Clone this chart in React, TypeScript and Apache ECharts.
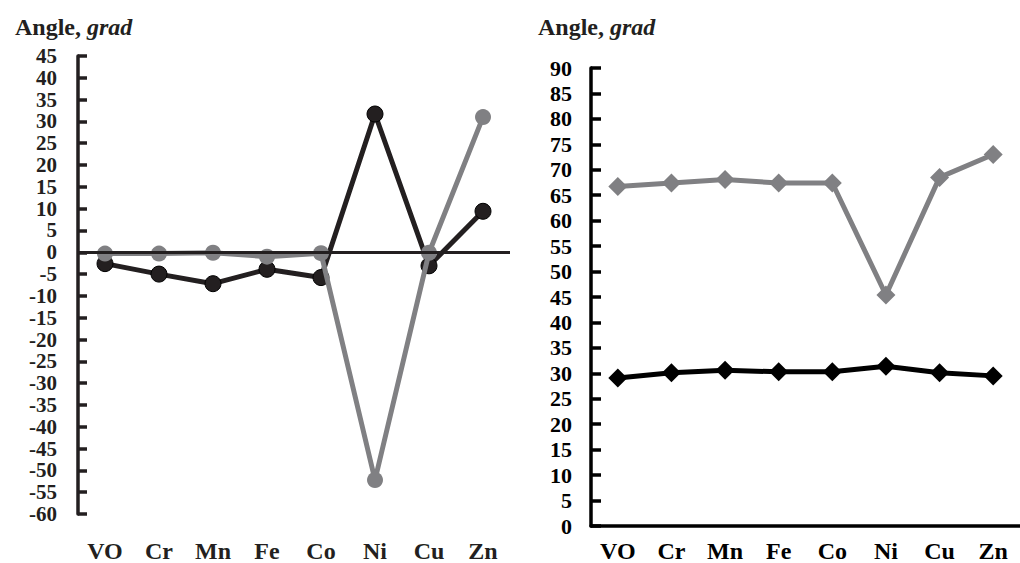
import React, { useEffect, useRef } from "react";
import * as echarts from "echarts";

const categories = ["VO", "Cr", "Mn", "Fe", "Co", "Ni", "Cu", "Zn"];
const leftBlack = [-2.6, -5, -7.2, -3.9, -5.8, 31.7, -3.1, 9.4];
const leftGray = [-0.3, -0.3, -0.1, -1, -0.2, -52.2, -0.1, 31];
const rightGray = [66.7, 67.4, 68.1, 67.4, 67.4, 45.4, 68.5, 73];
const rightBlack = [29.1, 30.1, 30.6, 30.3, 30.3, 31.4, 30.1, 29.5];
const leftTicks = { min: -60, max: 45, interval: 5 };
const rightTicks = { min: 0, max: 90, interval: 5 };

const FONT = '"Liberation Serif", "Times New Roman", serif';
const DARK = "#231f20";
const GRAY = "#808083";

export default function App() {
  const ref = useRef<HTMLDivElement>(null);
  useEffect(() => {
    if (!ref.current) return;
    const chart = echarts.init(ref.current, undefined, { renderer: "svg" });
    const rich = {
      b: { fontFamily: FONT, fontWeight: "bold", fontSize: 24, color: DARK },
      i: { fontFamily: FONT, fontWeight: "bold", fontStyle: "italic", fontSize: 24, color: DARK },
    };
    const yLabel = {
      fontFamily: FONT,
      fontWeight: "bold",
      fontSize: 21,
      color: "#000",
      showMinLabel: true,
      showMaxLabel: true,
      hideOverlap: false,
    };
    const xLabel = { fontFamily: FONT, fontWeight: "bold", fontSize: 24, color: "#000" };
    chart.setOption({
      animation: false,
      backgroundColor: "#fff",
      title: [
        { text: "{b|Angle, }{i|grad}", left: 10, top: 10, textStyle: { rich } },
        { text: "{b|Angle, }{i|grad}", left: 533, top: 10, textStyle: { rich } },
      ],
      grid: [
        { left: 78, top: 56, width: 432, height: 460 },
        { left: 591, top: 68, width: 440, height: 460 },
      ],
      xAxis: [
        {
          gridIndex: 0,
          type: "category",
          data: categories,
          axisLine: { show: false },
          axisTick: { show: false },
          axisLabel: { ...xLabel, color: DARK, interval: 0, margin: 25 },
        },
        {
          gridIndex: 1,
          type: "category",
          data: categories,
          axisLine: { show: true, onZero: false, lineStyle: { color: "#000", width: 3.5 } },
          axisTick: { show: false },
          axisLabel: { ...xLabel, interval: 0, margin: 13 },
        },
      ],
      yAxis: [
        {
          gridIndex: 0,
          type: "value",
          ...leftTicks,
          axisLine: { show: true, lineStyle: { color: DARK, width: 3.5 } },
          axisTick: { show: true, inside: true, length: 9, lineStyle: { color: DARK, width: 3.5 } },
          splitLine: { show: false },
          axisLabel: { ...yLabel, color: DARK, margin: 21 },
        },
        {
          gridIndex: 1,
          type: "value",
          ...rightTicks,
          axisLine: { show: true, lineStyle: { color: "#000", width: 3.5 } },
          axisTick: { show: true, inside: true, length: 10, lineStyle: { color: "#000", width: 3.5 } },
          splitLine: { show: false },
          axisLabel: { ...yLabel, fontSize: 22, margin: 19 },
        },
      ],
      series: [
        {
          type: "line",
          xAxisIndex: 0,
          yAxisIndex: 0,
          data: leftBlack,
          symbol: "circle",
          symbolSize: 16,
          lineStyle: { color: DARK, width: 5 },
          itemStyle: { color: DARK, borderColor: "#000", borderWidth: 1 },
          markLine: {
            silent: true,
            symbol: ["none", "none"],
            label: { show: false },
            lineStyle: { color: DARK, width: 3, type: "solid" },
            data: [{ yAxis: 0 }],
          },
          z: 2,
        },
        {
          type: "line",
          xAxisIndex: 0,
          yAxisIndex: 0,
          data: leftGray,
          symbol: "circle",
          symbolSize: 16,
          lineStyle: { color: GRAY, width: 5 },
          itemStyle: { color: GRAY },
          z: 3,
        },
        {
          type: "line",
          xAxisIndex: 1,
          yAxisIndex: 1,
          data: rightGray,
          symbol: "diamond",
          symbolSize: 19,
          lineStyle: { color: GRAY, width: 5 },
          itemStyle: { color: GRAY },
        },
        {
          type: "line",
          xAxisIndex: 1,
          yAxisIndex: 1,
          data: rightBlack,
          symbol: "diamond",
          symbolSize: 19,
          lineStyle: { color: "#000", width: 5 },
          itemStyle: { color: "#000" },
        },
      ],
    });
    return () => chart.dispose();
  }, []);
  return (
    <div
      ref={ref}
      style={{ position: "fixed", left: 0, top: 0, width: 1020, height: 563, background: "#fff" }}
    />
  );
}
